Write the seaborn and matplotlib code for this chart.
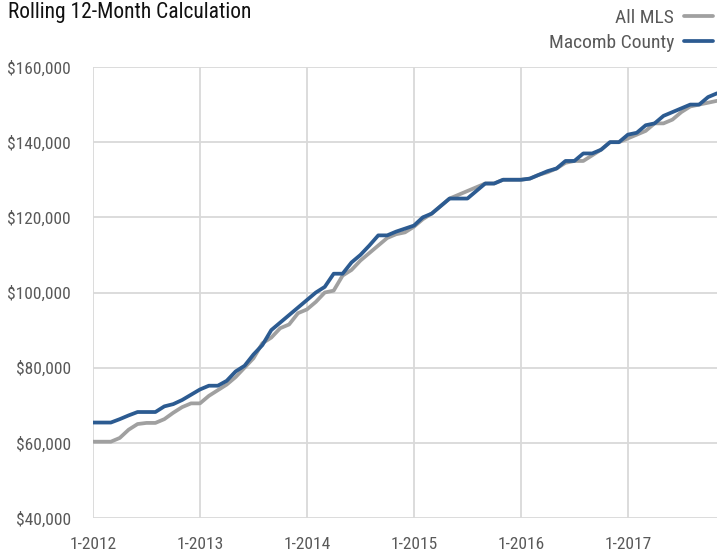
import pandas as pd
import numpy as np
import matplotlib.pyplot as plt
import seaborn as sns

# monthly rolling 12-month values, 1-2012 through 11-2017
all_mls = [60300, 60300, 60300, 61300, 63500, 65000, 65300, 65300, 66300, 68000, 69500, 70500,
           70500, 72500, 74000, 75500, 77500, 80000, 82500, 86500, 88000, 90500, 91500, 94500,
           95500, 97500, 100000, 100500, 104500, 106000, 108500, 110500, 112500, 114500, 115500, 116000,
           117500, 119500, 121000, 123000, 125000, 126000, 127000, 128000, 129000, 129000, 130000, 130000,
           130000, 130300, 131300, 132000, 133000, 134500, 135000, 135000, 136500, 138000, 140000, 140000,
           141000, 142000, 143000, 145000, 145000, 146000, 148000, 149500, 150000, 150500, 151000]
macomb = [65400, 65400, 65400, 66300, 67300, 68200, 68200, 68200, 69700, 70300, 71400, 72800,
          74200, 75200, 75200, 76500, 79000, 80500, 83500, 86000, 90000, 92000, 94000, 96000,
          98000, 100000, 101500, 105000, 105000, 108000, 110000, 112500, 115200, 115200, 116200, 117000,
          117800, 120000, 121000, 123000, 125000, 125000, 125000, 127000, 129000, 129000, 130000, 130000,
          130000, 130300, 131300, 132300, 133000, 135000, 135000, 137000, 137000, 138000, 140000, 140000,
          142000, 142500, 144500, 145000, 147000, 148000, 149000, 150000, 150000, 152000, 153000]
x_ticks = [0, 12, 24, 36, 48, 60]
x_labels = ["1-2012", "1-2013", "1-2014", "1-2015", "1-2016", "1-2017"]
y_ticks = [40000, 60000, 80000, 100000, 120000, 140000, 160000]
series = ["All MLS", "Macomb County"]

df = pd.DataFrame({
    "month": list(range(len(all_mls))) * 2,
    "price": all_mls + macomb,
    "area": [series[0]] * len(all_mls) + [series[1]] * len(macomb),
})

sns.set_style("white")
plt.rcParams["font.family"] = ["Roboto Condensed", "Liberation Sans", "DejaVu Sans"]

grid_col = "#d9d9d9"
text_col = "#595959"
palette = {"All MLS": "#a0a0a0", "Macomb County": "#2c5b91"}

fig = plt.figure(figsize=(7.17, 5.52), dpi=100)
ax = fig.add_axes([93 / 717, 34 / 552, 624 / 717, 451 / 552])
sns.lineplot(data=df, x="month", y="price", hue="area", palette=palette,
             linewidth=2.7, ax=ax, legend=False)

ax.set_xlim(0, 70)
ax.set_ylim(40000, 160000)
ax.set_xticks(x_ticks)
ax.set_xticklabels(x_labels)
ax.set_yticks(y_ticks)
ax.set_yticklabels(["${:,.0f}".format(v) for v in y_ticks])
ax.grid(True, color=grid_col, linewidth=1.3)
ax.set_axisbelow(True)
for s in ax.spines.values():
    s.set_visible(False)
ax.tick_params(axis="both", length=8, width=1.3, color=grid_col,
               labelcolor=text_col, labelsize=12.5)
ax.tick_params(axis="y", pad=8)
ax.tick_params(axis="x", pad=6)
ax.set_xlabel("")
ax.set_ylabel("")

fig.text(8 / 717, 1 - 2 / 552, "Rolling 12-Month Calculation", ha="left", va="top",
         fontsize=15.5, color="#111111")

handles = [plt.Line2D([], [], color=palette[s], linewidth=2.7) for s in series]
fig.legend(handles, series, loc="upper right", bbox_to_anchor=(1.0, 1 - 5 / 552),
           frameon=False, markerfirst=False, fontsize=14, labelcolor=text_col,
           handlelength=1.5, handletextpad=0.5, labelspacing=0.35,
           borderpad=0.2, borderaxespad=0)

plt.savefig("out.png", dpi=100)
